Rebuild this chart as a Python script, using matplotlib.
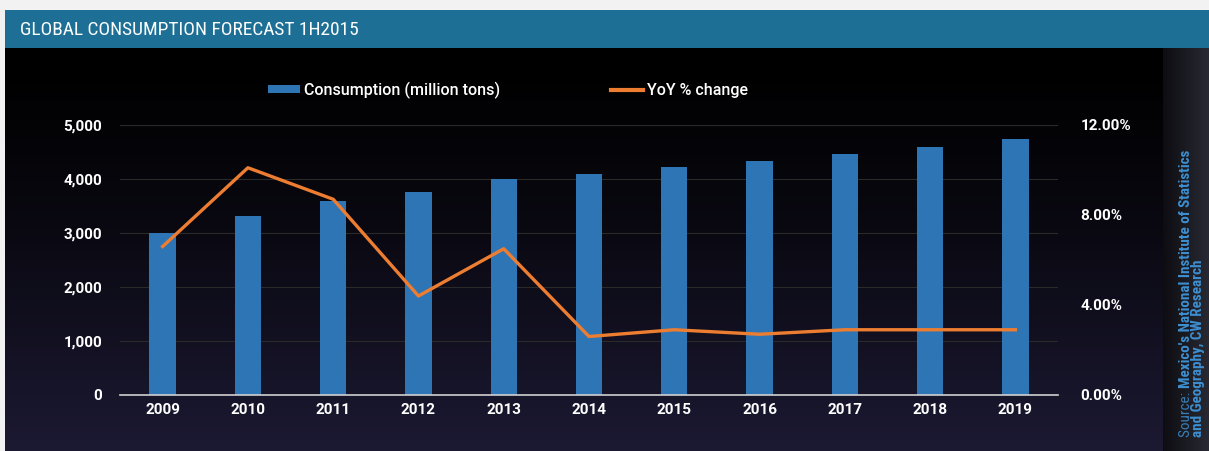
import numpy as np
import matplotlib.pyplot as plt
from matplotlib import font_manager
from matplotlib.patches import Rectangle, Patch
from matplotlib.lines import Line2D
from matplotlib.ticker import FuncFormatter

years = ["2009", "2010", "2011", "2012", "2013", "2014", "2015", "2016", "2017", "2018", "2019"]
consumption = [3000, 3310, 3600, 3760, 4000, 4100, 4230, 4340, 4470, 4600, 4735]
yoy_change = [6.6, 10.1, 8.7, 4.4, 6.5, 2.6, 2.9, 2.7, 2.9, 2.9, 2.9]

bar_color = "#2e75b6"
line_color = "#ed7d31"
src_color = "#3d8fd1"
W, H = 1209, 451

# pick a narrow family if one is installed
installed = {f.name for f in font_manager.fontManager.ttflist}
narrow = "Roboto"
for cand in ["Roboto Condensed", "Liberation Sans Narrow", "DejaVu Sans Condensed", "Open Sans Condensed"]:
    if cand in installed:
        narrow = cand
        break

fig = plt.figure(figsize=(W / 100, H / 100), dpi=100)
fig.patch.set_facecolor("#f2f2f2")
renderer = fig.canvas.get_renderer()


def fit_width(txt, px, horizontal=True):
    # shrink/grow the font so the text spans about px pixels
    bb = txt.get_window_extent(renderer)
    size = bb.width if horizontal else bb.height
    txt.set_fontsize(txt.get_fontsize() * px / size)


# background: black fading to dark navy
bg = fig.add_axes([5 / W, 0, 1 - 5 / W, 1 - 48 / H])
grad = np.linspace(0, 1, 256).reshape(-1, 1)
top = np.array([0.0, 0.0, 0.0])
bottom = np.array([0.11, 0.10, 0.20])
img = top + (bottom - top) * grad[..., None] ** 1.3
bg.imshow(img, aspect="auto", extent=[0, 1, 0, 1], origin="upper")
# right strip for the source note
sx0 = (1163 - 5) / (W - 5)
strip = np.linspace(0, 1, 64).reshape(1, -1)
sc0 = np.array([0.05, 0.05, 0.07])
sc1 = np.array([0.16, 0.16, 0.20])
simg = sc0 + (sc1 - sc0) * strip[..., None]
bg.imshow(simg, aspect="auto", extent=[sx0, 1, 0, 1], zorder=2)
bg.set_xlim(0, 1)
bg.set_ylim(0, 1)
bg.axis("off")

# title bar
fig.patches.append(Rectangle((5 / W, 1 - 48 / H), 1, 38 / H, transform=fig.transFigure,
                             facecolor="#1d6f95", edgecolor="none", zorder=1))
title = fig.text(20 / W, 1 - 30 / H, "GLOBAL CONSUMPTION FORECAST 1H2015", color="white",
                 fontsize=15, family=narrow, va="center", ha="left")
fit_width(title, 340)

ax = fig.add_axes([120 / W, 1 - 395 / H, (1058 - 120) / W, 270 / H])
ax.set_facecolor("none")
x = np.arange(len(years))
ax.bar(x, consumption, width=0.31, color=bar_color, zorder=2)
ax.set_xlim(-0.5, len(years) - 0.5)
ax.set_ylim(0, 5000)
ax.set_yticks(range(0, 5001, 1000))
ax.yaxis.set_major_formatter(FuncFormatter(lambda v, p: f"{int(v):,}"))
ax.set_xticks(x)
ax.set_xticklabels(years)
ax.grid(axis="y", color="#2a2a2a", linewidth=0.8, zorder=0)
for s in ["top", "right", "left"]:
    ax.spines[s].set_visible(False)
ax.spines["bottom"].set_color("#d0d0d0")
ax.spines["bottom"].set_linewidth(1.2)
ax.tick_params(axis="both", length=0, colors="white", labelsize=11)
ax.tick_params(axis="y", pad=13)
ax.tick_params(axis="x", pad=6)
for lab in ax.get_xticklabels() + ax.get_yticklabels():
    lab.set_fontfamily("Roboto")
    lab.set_fontweight("bold")

ax2 = ax.twinx()
ax2.plot(x, yoy_change, color=line_color, linewidth=2.4, zorder=3)
ax2.set_ylim(0, 12)
ax2.set_yticks([0, 4, 8, 12])
ax2.yaxis.set_major_formatter(FuncFormatter(lambda v, p: f"{v:.2f}%"))
for s in ax2.spines.values():
    s.set_visible(False)
ax2.tick_params(axis="y", length=0, colors="white", labelsize=11, pad=16)
for lab in ax2.get_yticklabels():
    lab.set_fontfamily("Roboto")
    lab.set_fontweight("bold")

handles = [Patch(facecolor=bar_color, label="Consumption (million tons)"),
           Line2D([], [], color=line_color, linewidth=3, label="YoY % change")]
leg = fig.legend(handles=handles, loc="center", bbox_to_anchor=(508 / W, 1 - 90 / H), ncol=2,
                 frameon=False, columnspacing=7, handlelength=2.0, handleheight=0.4,
                 handletextpad=0.2, prop={"family": "Roboto", "weight": "medium", "size": 11.5})
for t in leg.get_texts():
    t.set_color("white")

# source note, rotated, two lines starting at the bottom
y0 = 1 - 437 / H
s2 = fig.text(1198 / W, y0, "and Geography, CW Research", color=src_color, fontsize=10,
              rotation=90, family=narrow, weight="bold", ha="center", va="bottom")
fit_width(s2, 177, horizontal=False)
fs = s2.get_fontsize()
s1 = fig.text(1186 / W, y0, "Source: ", color=src_color, fontsize=fs, rotation=90,
              family=narrow, ha="center", va="bottom", alpha=0.85)
bb = s1.get_window_extent(renderer)
fig.text(1186 / W, bb.y1 / fig.bbox.height, "Mexico's National Institute of Statistics",
         color=src_color, fontsize=fs, rotation=90, family=narrow,
         weight="bold", ha="center", va="bottom")

fig.savefig("out.png", dpi=100, facecolor=fig.get_facecolor())
